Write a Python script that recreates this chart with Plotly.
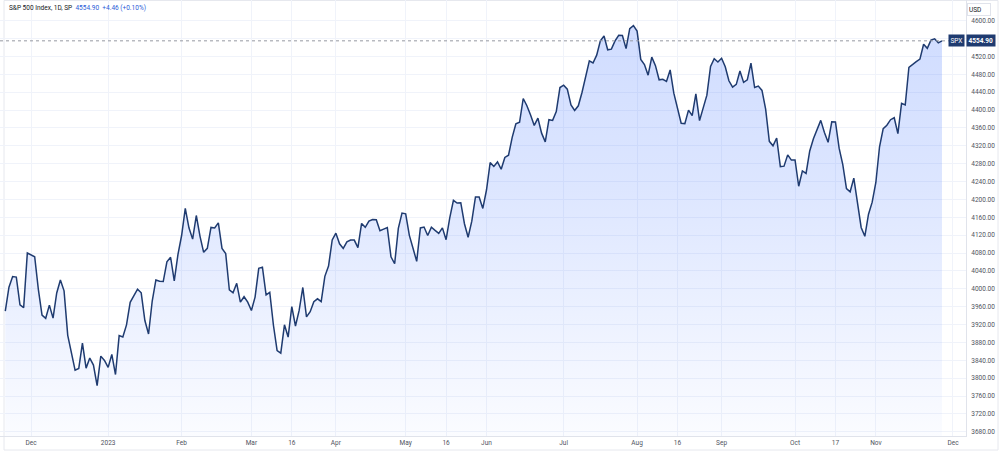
import pandas as pd
import plotly.graph_objects as go

# ---- data ----
holidays = ["2022-11-24", "2022-12-26", "2023-01-02", "2023-01-16", "2023-02-20",
            "2023-04-07", "2023-05-29", "2023-06-19", "2023-07-04", "2023-09-04",
            "2023-11-23"]

closes = [
    # Nov 2022
    3949.94, 4003.58, 4027.26, 4026.12, 3963.94, 3957.63, 4080.11,
    # Dec 2022
    4076.57, 4071.70, 3998.84, 3941.26, 3933.92, 3963.51, 3934.38, 3990.56, 4019.65, 3995.32,
    3895.75, 3852.36, 3817.66, 3821.62, 3878.44, 3822.39, 3844.82, 3829.25, 3783.22, 3849.28, 3839.50,
    # Jan 2023
    3824.14, 3852.97, 3808.10, 3895.08, 3892.09, 3919.25, 3969.61, 3983.17, 3999.09, 3990.97,
    3928.86, 3898.85, 3972.61, 4019.81, 4016.95, 4016.22, 4060.43, 4070.56, 4017.77, 4076.60,
    # Feb
    4119.21, 4179.76, 4136.48, 4111.08, 4164.00, 4117.86, 4081.50, 4090.46, 4137.29, 4136.13,
    4147.60, 4090.41, 4079.09, 3997.34, 3991.05, 4012.32, 3970.04, 3982.24, 3970.15,
    # Mar
    3951.39, 3981.35, 4045.64, 4048.42, 3986.37, 3992.01, 3918.32, 3861.59, 3855.76, 3919.29,
    3891.93, 3960.28, 3916.64, 3951.57, 4002.87, 3936.97, 3948.72, 3970.99, 3977.53, 3971.27,
    4027.81, 4050.83, 4109.31,
    # Apr
    4124.51, 4100.60, 4090.38, 4105.02, 4109.11, 4108.94, 4091.95, 4146.22, 4137.64, 4151.32,
    4154.87, 4154.52, 4129.79, 4133.52, 4137.04, 4071.63, 4055.99, 4135.35, 4169.48,
    # May
    4167.87, 4119.58, 4090.75, 4061.22, 4136.25, 4138.12, 4119.17, 4137.64, 4130.62, 4124.08,
    4136.28, 4109.90, 4158.77, 4198.05, 4191.98, 4192.63, 4145.58, 4115.24, 4151.28, 4205.45,
    4205.52, 4179.83,
    # Jun
    4221.02, 4282.37, 4273.79, 4283.85, 4267.52, 4293.93, 4298.86, 4338.93, 4369.01, 4372.59,
    4425.84, 4409.59, 4388.71, 4365.69, 4381.89, 4348.33, 4328.82, 4378.41, 4376.86, 4396.44,
    4450.38,
    # Jul
    4455.59, 4446.82, 4411.59, 4398.95, 4409.53, 4439.26, 4472.16, 4510.04, 4505.42, 4522.79,
    4554.98, 4565.72, 4534.87, 4536.34, 4554.64, 4567.46, 4566.75, 4537.41, 4582.23, 4588.96,
    # Aug
    4576.73, 4513.39, 4501.89, 4478.03, 4518.44, 4499.38, 4467.71, 4468.83, 4464.05, 4489.72,
    4437.86, 4404.33, 4370.36, 4369.71, 4399.77, 4387.55, 4436.01, 4376.31, 4405.71, 4433.31,
    4497.63, 4514.87, 4507.66,
    # Sep
    4515.77, 4496.83, 4465.48, 4451.14, 4457.49, 4487.46, 4461.90, 4467.44, 4505.10, 4450.32,
    4453.53, 4443.95, 4402.20, 4330.00, 4320.06, 4337.44, 4273.53, 4274.51, 4299.70, 4288.05,
    # Oct
    4288.39, 4229.45, 4263.75, 4258.19, 4308.50, 4335.66, 4358.24, 4376.95, 4349.61, 4327.78,
    4373.63, 4373.20, 4314.60, 4278.00, 4224.16, 4217.04, 4247.68, 4186.77, 4137.23, 4117.37,
    4166.82, 4193.80,
    # Nov 2023
    4237.86, 4317.78, 4358.34, 4365.98, 4378.38, 4382.78, 4347.35, 4415.24, 4411.55, 4495.70,
    4502.88, 4508.24, 4514.02, 4547.38, 4538.19, 4556.62, 4559.34, 4550.43, 4554.90,
]

dates = [d for d in pd.bdate_range("2022-11-21", "2023-11-28")
         if d.strftime("%Y-%m-%d") not in holidays]

tick_dates = ["2022-12-01", "2023-01-03", "2023-02-01", "2023-03-01", "2023-03-16",
              "2023-04-03", "2023-05-01", "2023-05-16", "2023-06-01", "2023-07-03",
              "2023-08-01", "2023-08-16", "2023-09-01", "2023-10-02", "2023-10-17",
              "2023-11-01", "2023-12-01"]
tick_text = ["Dec", "2023", "Feb", "Mar", "16", "Apr", "May", "16", "Jun", "Jul",
             "Aug", "16", "Sep", "Oct", "17", "Nov", "Dec"]

price_ticks = list(range(3680, 4601, 40))

last_price = closes[-1]
title_name = "S&P 500 Index, 1D, SP"
title_quote = "4554.90  +4.46 (+0.10%)"

# ---- figure ----
W, H = 1000, 453
ML, MR, MT, MB = 0, 34, 0, 17
PW, PH = W - ML - MR, H - MT - MB

line_color = "#1f3b70"
font_family = "Roboto, Arial, sans-serif"

# tick label hidden under the last-price tag (as in the reference)
price_text = ["" if abs(v - last_price) < 12 else "%.2f" % v for v in price_ticks]

fig = go.Figure()
fig.add_trace(go.Scatter(
    x=dates, y=closes, mode="lines",
    line=dict(color=line_color, width=1.5),
    fill="tozeroy",
    fillgradient=dict(type="vertical",
                      colorscale=[[0, "rgba(41,98,255,0.02)"],
                                  [0.6, "rgba(41,98,255,0.16)"],
                                  [1, "rgba(41,98,255,0.22)"]],
                      start=3670, stop=4600),
    hoverinfo="skip", showlegend=False,
))

rb = [dict(bounds=["sat", "mon"]), dict(values=holidays)]

fig.update_layout(
    width=W, height=H,
    margin=dict(l=ML, r=MR, t=MT, b=MB),
    paper_bgcolor="white", plot_bgcolor="white",
    font=dict(family=font_family, size=6.5, color="#50535e"),
    xaxis=dict(
        type="date", rangebreaks=rb,
        range=["2022-11-17 13:26", "2023-12-06 13:00"],
        tickvals=tick_dates, ticktext=tick_text,
        showgrid=True, gridcolor="#f0f3fa", gridwidth=1,
        showline=True, linecolor="#e0e3eb", linewidth=1,
        ticks="", tickfont=dict(size=6.5, color="#50535e"),
        zeroline=False, fixedrange=True,
    ),
    yaxis=dict(
        side="right", range=[3670.5, 4646.3],
        tickvals=price_ticks, ticktext=price_text,
        showgrid=True, gridcolor="#f0f3fa", gridwidth=1,
        showline=True, linecolor="#e0e3eb", linewidth=1,
        ticks="", tickfont=dict(size=6.5, color="#50535e"),
        ticklabelstandoff=3,
        zeroline=False, fixedrange=True,
    ),
)

def px_x(px):
    return (px - ML) / PW

def px_y(py):
    return (H - MB - py) / PH

# last price dotted line
fig.add_shape(type="line", xref="paper", yref="y", x0=0, x1=1,
              y0=last_price, y1=last_price,
              line=dict(color="#9598a1", width=1, dash="dot"))

# outer frame
fig.add_shape(type="rect", xref="paper", yref="paper",
              x0=px_x(4), x1=px_x(998), y0=px_y(450), y1=px_y(0.5),
              line=dict(color="#e6e8ee", width=1), layer="below")

# title
fig.add_annotation(
    xref="paper", yref="paper", x=px_x(7), y=px_y(8),
    xanchor="left", yanchor="middle", showarrow=False,
    text=(f"<span style='color:#131722'>{title_name}</span>  "
          f"<span style='color:#2a5bd7'>{title_quote}</span>"),
    font=dict(size=6.5, family=font_family),
)

# USD box
fig.add_annotation(
    xref="paper", yref="paper", x=px_x(967), y=px_y(9),
    xanchor="left", yanchor="middle", showarrow=False,
    text="USD", align="left", width=20, height=9,
    bgcolor="white", bordercolor="#e0e3eb", borderwidth=1, borderpad=1,
    font=dict(size=6.5, color="#131722", family=font_family),
)

# SPX tag and price label
fig.add_annotation(
    xref="paper", yref="y", x=px_x(965), y=last_price,
    xanchor="right", yanchor="middle", showarrow=False,
    text="SPX", bgcolor=line_color, borderpad=1.5,
    font=dict(size=6.5, color="white", family=font_family),
)
fig.add_annotation(
    xref="paper", yref="y", x=px_x(966), y=last_price,
    xanchor="left", yanchor="middle", showarrow=False,
    text="<b>%.2f</b>" % last_price, bgcolor=line_color, borderpad=1.5,
    font=dict(size=6.5, color="white", family=font_family),
)

fig.write_html("out.html")
